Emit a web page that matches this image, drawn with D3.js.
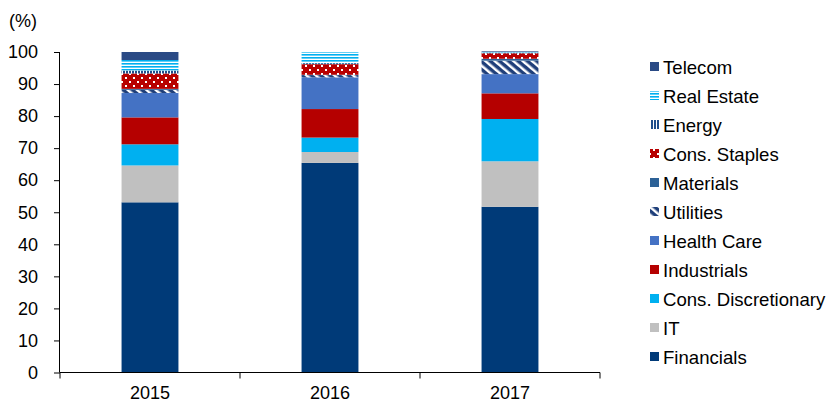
<!DOCTYPE html>
<html><head><meta charset="utf-8">
<script src="https://cdn.jsdelivr.net/npm/d3@7"></script>
<style>body{margin:0;background:#fff}svg{display:block;font-family:"Liberation Sans",Arial,sans-serif}</style>
</head><body><svg id="c" width="827" height="403"></svg>
<script>
const years = ["2015","2016","2017"];
const sectors = ["Financials","IT","Cons. Discretionary","Industrials","Health Care","Utilities","Materials","Cons. Staples","Energy","Real Estate","Telecom"];
const financials = [53.1, 65.4, 51.7];
const it = [11.5, 3.4, 14.2];
const consDisc = [6.6, 4.5, 13.2];
const industrials = [8.4, 8.9, 8.0];
const healthCare = [7.6, 9.9, 6.0];
const utilities = [1.0, 0.7, 4.2];
const materials = [0.3, 0.1, 0.6];
const consStaples = [4.8, 3.3, 1.7];
const energy = [0.9, 0.3, 0.2];
const realEstate = [3.3, 3.5, 0.2];
const telecom = [2.5, 0.0, 0.2];
const yTicks = [0,10,20,30,40,50,60,70,80,90,100];
const seriesValues = [financials,it,consDisc,industrials,healthCare,utilities,materials,consStaples,energy,realEstate,telecom];

const FS = 18;
const svg = d3.select("#c");
const defs = svg.append("defs");
let p = defs.append("pattern").attr("id","pUtil").attr("width",6).attr("height",6).attr("patternUnits","userSpaceOnUse").attr("patternTransform","rotate(40)");
p.append("rect").attr("width",6).attr("height",6).attr("fill","#fff");
p.append("rect").attr("width",6).attr("height",3.5).attr("fill","#1F3F7A");
p = defs.append("pattern").attr("id","pStap").attr("width",8).attr("height",8).attr("patternUnits","userSpaceOnUse");
p.append("rect").attr("width",8).attr("height",8).attr("fill","#B80000");
p.append("rect").attr("x",1).attr("y",1).attr("width",2).attr("height",2).attr("fill","#fff");
p.append("rect").attr("x",5).attr("y",5).attr("width",2).attr("height",2).attr("fill","#fff");
p = defs.append("pattern").attr("id","pEnergy").attr("width",3).attr("height",3).attr("patternUnits","userSpaceOnUse");
p.append("rect").attr("width",3).attr("height",3).attr("fill","#fff");
p.append("rect").attr("width",2).attr("height",3).attr("fill","#1F4E8C");
p = defs.append("pattern").attr("id","pRE").attr("width",4).attr("height",3).attr("patternUnits","userSpaceOnUse");
p.append("rect").attr("width",4).attr("height",3).attr("fill","#fff");
p.append("rect").attr("width",4).attr("height",1.6).attr("fill","#00B0F0");

const fills = ["#003A78","#C0C0C0","#00B0F0","#B50000","#4472C4","url(#pUtil)","#2C6196","url(#pStap)","url(#pEnergy)","url(#pRE)","#2A4A85"];

const x = d3.scaleBand().domain(years).range([60,600]).paddingInner(0.684).paddingOuter(0.342);
const y = d3.scaleLinear().domain([0,100]).range([372.5,52]);

const rows = years.map((yr,i)=>{const o={year:yr}; sectors.forEach((s,j)=>o[s]=seriesValues[j][i]); return o;});
const stack = d3.stack().keys(sectors)(rows);

svg.append("g").selectAll("g").data(stack).join("g").attr("fill",(d,i)=>fills[i])
  .selectAll("rect").data(d=>d).join("rect")
  .attr("x",d=>x(d.data.year)).attr("width",x.bandwidth())
  .attr("y",d=>y(d[1])).attr("height",d=>Math.max(0,y(d[0])-y(d[1])));

const ya = svg.append("g").attr("transform","translate(60,0)")
  .call(d3.axisLeft(y).tickValues(yTicks).tickSize(6).tickPadding(16));
ya.select(".domain").attr("d","M-0.5,52V372.5").attr("stroke","#000");
ya.selectAll("text").attr("font-size",FS).attr("fill","#000").style("font-family","Liberation Sans, Arial, sans-serif");

const xTickScale = d3.scaleLinear().domain([0,3]).range([60,600]);
const xa = svg.append("g").attr("transform","translate(0,372.5)");
xa.append("line").attr("x1",60).attr("x2",600).attr("stroke","#000");
xa.selectAll("line.t").data([0,1,2,3]).join("line").attr("class","t")
  .attr("x1",d=>xTickScale(d)).attr("x2",d=>xTickScale(d)).attr("y1",0).attr("y2",6).attr("stroke","#000");
xa.selectAll("text").data(years).join("text").attr("x",d=>x(d)+x.bandwidth()/2).attr("y",26)
  .attr("text-anchor","middle").attr("font-size",FS).text(d=>d);

svg.append("text").attr("x",9).attr("y",27).attr("font-size",FS).text("(%)");

const leg = svg.append("g");
const legOrder = sectors.map((s,i)=>i).reverse();
legOrder.forEach((si,k)=>{
  const yy = 67 + k*29;
  leg.append("rect").attr("x",650).attr("y",yy-5).attr("width",9).attr("height",9).attr("fill",fills[si]);
  leg.append("text").attr("x",663).attr("y",yy+6.5).attr("font-size",18.6).text(sectors[si]);
});
</script></body></html>
